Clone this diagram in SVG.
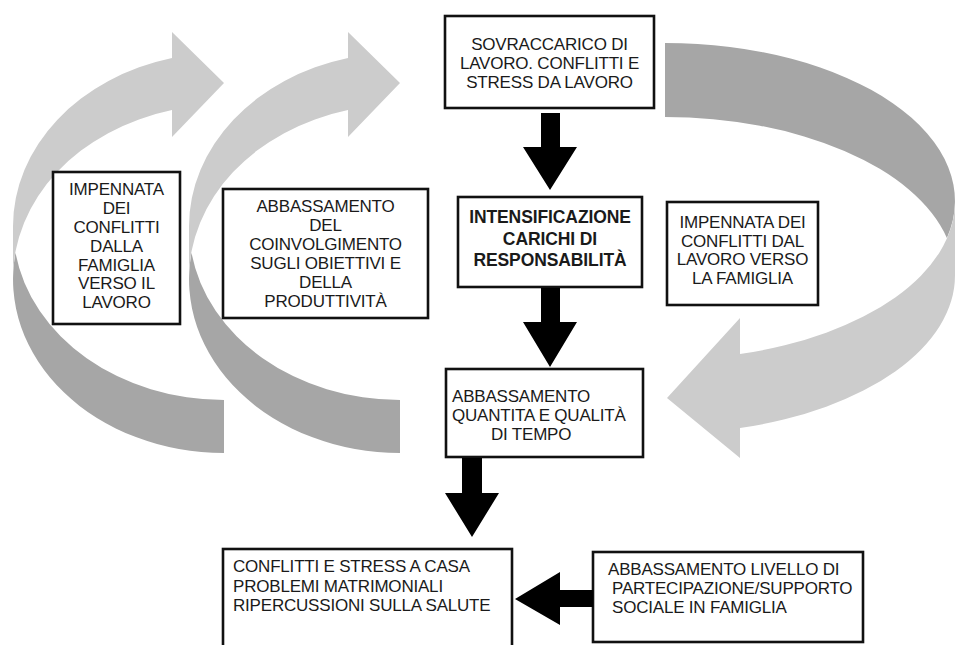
<svg xmlns="http://www.w3.org/2000/svg" width="957" height="645" viewBox="0 0 957 645">
<style>
.box{fill:#fff;stroke:#111;stroke-width:2.6}
.t{font-family:"Liberation Sans",Arial,Helvetica,sans-serif;font-size:17px;fill:#1a1a1a;letter-spacing:-0.2px}
.c{text-anchor:middle}
.b{font-weight:bold;font-size:17.5px;letter-spacing:-0.1px}
.lt{fill:#cccccc}
.dk{fill:#a6a6a6}
.blk{fill:#000}
</style>
<defs>
<g id="curvedArrow">
<path class="dk" d="M15.5,252.8 A211,173.7 0 0 0 224,453 L224,400 A211,173.7 0 0 1 15.5,252.8 Z"/>
<path class="lt" d="M13,279.3 A211,173.7 0 0 1 172,110 L172,137 L224,83 L172,32 L172,58 A211,173.7 0 0 0 13,226.3 Z"/>
</g>
</defs>
<rect width="957" height="645" fill="#fff"/>
<g id="loops">
<use href="#curvedArrow"/>
<use href="#curvedArrow" transform="translate(176,0)"/>
<g id="loop-right">
<path class="dk" d="M946.9,238 A290,158 0 0 0 665,43 L665,117 A290,158 0 0 1 946.9,238 Z"/>
<path class="lt" d="M955,201 A290,158 0 0 1 740,354 L740,318 L667,398 L740,458 L740,428 A290,158 0 0 0 955,275 Z"/>
</g>
</g>
<g id="n-sovraccarico">
<rect class="box" x="445" y="16" width="209" height="92"/>
<text class="t c" x="549.5" y="50">SOVRACCARICO DI</text>
<text class="t c" x="549.5" y="69">LAVORO. CONFLITTI E</text>
<text class="t c" x="549.5" y="88">STRESS DA LAVORO</text>
</g>
<g id="n-intensificazione">
<rect class="box" x="458" y="197" width="184" height="90"/>
<text class="t c b" x="550" y="223">INTENSIFICAZIONE</text>
<text class="t c b" x="550" y="244.5">CARICHI DI</text>
<text class="t c b" x="550" y="266">RESPONSABILITÀ</text>
</g>
<g id="n-impennata-lavoro-famiglia">
<rect class="box" x="667" y="202" width="151" height="103"/>
<text class="t c" x="742.5" y="228">IMPENNATA DEI</text>
<text class="t c" x="742.5" y="247">CONFLITTI DAL</text>
<text class="t c" x="742.5" y="265">LAVORO VERSO</text>
<text class="t c" x="742.5" y="283.5">LA FAMIGLIA</text>
</g>
<g id="n-impennata-famiglia-lavoro">
<rect class="box" x="53" y="172" width="127" height="152"/>
<text class="t c" x="116.5" y="195">IMPENNATA</text>
<text class="t c" x="116.5" y="214">DEI</text>
<text class="t c" x="116.5" y="233">CONFLITTI</text>
<text class="t c" x="116.5" y="252">DALLA</text>
<text class="t c" x="116.5" y="270.5">FAMIGLIA</text>
<text class="t c" x="116.5" y="289">VERSO IL</text>
<text class="t c" x="116.5" y="308">LAVORO</text>
</g>
<g id="n-abbassamento-coinvolgimento">
<rect class="box" x="223" y="189" width="205" height="129"/>
<text class="t c" x="325.5" y="212">ABBASSAMENTO</text>
<text class="t c" x="325.5" y="231">DEL</text>
<text class="t c" x="325.5" y="250">COINVOLGIMENTO</text>
<text class="t c" x="325.5" y="269">SUGLI OBIETTIVI E</text>
<text class="t c" x="325.5" y="288">DELLA</text>
<text class="t c" x="325.5" y="307">PRODUTTIVITÀ</text>
</g>
<g id="n-abbassamento-tempo">
<rect class="box" x="446" y="369" width="197" height="88"/>
<text class="t" x="452" y="402">ABBASSAMENTO</text>
<text class="t" x="452" y="421">QUANTITA E QUALITÀ</text>
<text class="t" x="491" y="439.5">DI TEMPO</text>
</g>
<g id="n-conflitti-casa">
<rect class="box" x="223" y="549" width="289" height="110"/>
<text class="t" x="233" y="572">CONFLITTI E STRESS A CASA</text>
<text class="t" x="233" y="591.5">PROBLEMI MATRIMONIALI</text>
<text class="t" x="233" y="610.5">RIPERCUSSIONI SULLA SALUTE</text>
</g>
<g id="n-abbassamento-supporto">
<rect class="box" x="593" y="552" width="270" height="90"/>
<text class="t" x="608" y="575">ABBASSAMENTO LIVELLO DI</text>
<text class="t" x="612" y="594">PARTECIPAZIONE/SUPPORTO</text>
<text class="t" x="612" y="612.5">SOCIALE IN FAMIGLIA</text>
</g>
<g id="connectors">
<path class="blk" d="M541,113 H560 V147 H577 L550,190 L523,147 H541 Z"/>
<path class="blk" d="M541,288 H560 V322 H577 L550,367 L523,322 H541 Z"/>
<path class="blk" d="M462,458 H482 V493 H499 L472,537 L445,493 H462 Z"/>
<path class="blk" d="M593,590 V607 H560 V625 L515,599 L560,572 V590 Z"/>
</g>
</svg>
